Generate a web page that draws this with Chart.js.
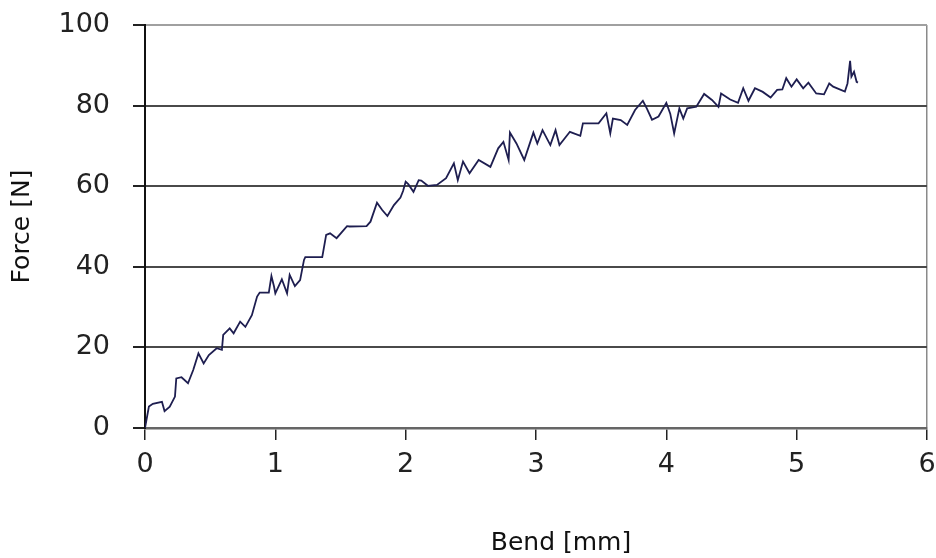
<!DOCTYPE html>
<html>
<head>
<meta charset="utf-8">
<title>Force vs Bend</title>
<script src="https://cdn.jsdelivr.net/npm/chart.js@4.4.1/dist/chart.umd.min.js"></script>
<style>
  html, body { margin: 0; padding: 0; background: #fff; }
  #wrap { position: relative; width: 936px; height: 558px; }
</style>
</head>
<body>
<div id="wrap"><canvas id="chart"></canvas></div>
<script>
// measured points (bend in mm, force in N)
var bendMm = [
  0.00, 0.03, 0.06, 0.13, 0.15, 0.19, 0.23, 0.24, 0.28, 0.33,
  0.37, 0.41, 0.45, 0.49, 0.55, 0.59, 0.60, 0.65, 0.68, 0.73,
  0.77, 0.82, 0.86, 0.88, 0.95, 0.97, 0.99, 1.00, 1.05, 1.09,
  1.11, 1.15, 1.19, 1.22, 1.23, 1.36, 1.39, 1.42, 1.47, 1.55,
  1.57, 1.70, 1.73, 1.78, 1.82, 1.86, 1.91, 1.96, 1.98, 2.00,
  2.02, 2.06, 2.10, 2.12, 2.17, 2.24, 2.31, 2.37, 2.40, 2.44,
  2.49, 2.56, 2.65, 2.71, 2.75, 2.79, 2.80, 2.85, 2.91, 2.98,
  3.01, 3.05, 3.11, 3.15, 3.18, 3.26, 3.34, 3.36, 3.48, 3.54,
  3.57, 3.59, 3.65, 3.70, 3.76, 3.82, 3.85, 3.89, 3.94, 4.00,
  4.03, 4.06, 4.10, 4.13, 4.16, 4.23, 4.29, 4.35, 4.40, 4.42,
  4.49, 4.55, 4.59, 4.63, 4.68, 4.74, 4.80, 4.85, 4.89, 4.92,
  4.96, 5.00, 5.05, 5.09, 5.15, 5.21, 5.25, 5.28, 5.37, 5.39,
  5.41, 5.42, 5.44, 5.46, 5.47
];
var forceN = [
  0.0, 5.3, 6.0, 6.5, 4.2, 5.3, 7.8, 12.3, 12.6, 11.1,
  14.4, 18.5, 16.0, 18.1, 19.8, 19.4, 23.1, 24.7, 23.5, 26.4,
  25.1, 28.0, 32.6, 33.6, 33.6, 37.7, 35.1, 33.4, 36.9, 33.4,
  38.0, 35.2, 36.7, 41.7, 42.4, 42.4, 47.9, 48.3, 47.1, 50.1,
  50.0, 50.1, 51.2, 55.9, 54.1, 52.6, 55.3, 57.2, 58.8, 61.1,
  60.5, 58.6, 61.5, 61.4, 60.1, 60.3, 62.0, 65.7, 61.5, 66.1,
  63.2, 66.5, 64.8, 69.4, 71.0, 66.5, 73.3, 70.6, 66.5, 73.3,
  70.6, 73.9, 70.2, 73.9, 70.2, 73.5, 72.5, 75.6, 75.6, 78.1,
  73.1, 76.8, 76.4, 75.2, 78.9, 81.2, 79.3, 76.5, 77.3, 80.7,
  78.0, 73.1, 79.3, 76.8, 79.3, 79.7, 82.9, 81.4, 79.7, 83.0,
  81.5, 80.7, 84.3, 81.2, 84.3, 83.4, 82.0, 83.9, 84.0, 86.8,
  84.7, 86.5, 84.3, 85.7, 83.0, 82.8, 85.5, 84.7, 83.5, 85.5,
  91.1, 87.2, 88.4, 85.9, 85.7
];
var xTicks = [0, 1, 2, 3, 4, 5, 6];
var yTicks = [0, 20, 40, 60, 80, 100];
var xTitle = "Bend [mm]";
var yTitle = "Force [N]";

var FONT = "'DejaVu Sans', sans-serif";

function buildPoints() {
  var pts = [];
  for (var i = 0, len = bendMm.length; i < len; i++) {
    pts.push({ x: bendMm[i], y: forceN[i] });
  }
  return pts;
}

function fixedTicks(list) {
  return function (scale) {
    scale.ticks = list.map(function (v) { return { value: v }; });
  };
}

// x title sits a bit right of the plot centre in the original
var xTitlePlugin = {
  id: "xTitle",
  afterDraw: function (chart) {
    var ctx = chart.ctx;
    ctx.save();
    ctx.font = "25px " + FONT;
    ctx.fillStyle = "#111";
    ctx.textAlign = "center";
    ctx.textBaseline = "middle";
    ctx.fillText(xTitle, chart.chartArea.left + chart.chartArea.width * 0.532, 543);
    ctx.restore();
  }
};

new Chart(document.getElementById("chart").getContext("2d"), {
  type: "line",
  data: {
    datasets: [{
      data: buildPoints(),
      borderColor: "#1e1e50",
      borderWidth: 1.8,
      pointRadius: 0,
      tension: 0,
      fill: false
    }]
  },
  options: {
    responsive: true,
    maintainAspectRatio: false,
    animation: false,
    layout: { padding: { top: 25, right: 9, bottom: 0, left: 0 } },
    plugins: { legend: { display: false }, tooltip: { enabled: false } },
    scales: {
      x: {
        type: "linear",
        min: 0,
        max: 6,
        afterBuildTicks: fixedTicks(xTicks),
        afterFit: function (scale) {
          scale.height = 130;
          scale.paddingLeft = 0;
          scale.paddingRight = 0;
        },
        border: { display: true, color: "#666", width: 2.5 },
        grid: {
          drawOnChartArea: true,
          color: function (c) { return c.tick && c.tick.value === 6 ? "#8a8a8a" : "rgba(0,0,0,0)"; },
          lineWidth: 1.5,
          tickColor: "#222",
          tickLength: 12
        },
        ticks: { padding: 9, color: "#222", font: { family: FONT, size: 27 } }
      },
      y: {
        min: 0,
        max: 100,
        afterBuildTicks: fixedTicks(yTicks),
        afterFit: function (scale) {
          scale.width = 145;
          scale.paddingTop = 0;
          scale.paddingBottom = 0;
        },
        border: { display: true, color: "#111", width: 2 },
        grid: {
          color: function (c) {
            if (!c.tick) return "#555";
            if (c.tick.value === 0) return "rgba(0,0,0,0)";
            return c.tick.value === 100 ? "#a0a0a0" : "#4a4a4a";
          },
          lineWidth: 2,
          tickColor: "#222",
          tickLength: 12
        },
        ticks: { padding: 23, color: "#222", font: { family: FONT, size: 27 } },
        title: {
          display: true,
          text: yTitle,
          color: "#111",
          padding: { top: 7, bottom: 0 },
          font: { family: FONT, size: 25 }
        }
      }
    }
  },
  plugins: [xTitlePlugin]
});
</script>
</body>
</html>
